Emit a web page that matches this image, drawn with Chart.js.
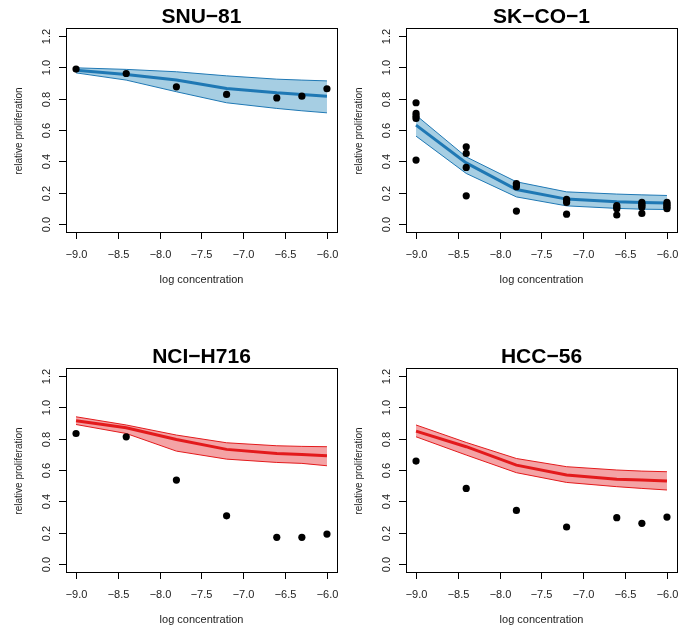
<!DOCTYPE html>
<html>
<head>
<meta charset="utf-8">
<title>Dose response</title>
<script src="https://cdn.jsdelivr.net/npm/chart.js@4.4.1/dist/chart.umd.min.js"></script>
<style>
  html, body { margin: 0; padding: 0; background: #fff; }
  #wrap { position: relative; width: 681px; height: 634px; overflow: hidden; }
  canvas { position: absolute; }
</style>
</head>
<body>
<div id="wrap">
  <canvas id="c1" width="341" height="300" style="left:0;top:0"></canvas>
  <canvas id="c2" width="341" height="300" style="left:340px;top:0"></canvas>
  <canvas id="c3" width="341" height="300" style="left:0;top:340px"></canvas>
  <canvas id="c4" width="341" height="300" style="left:340px;top:340px"></canvas>
</div>
<script>
// log10 molar concentrations used in every assay
const concentrations = [-9.0, -8.4, -7.8, -7.2, -6.6, -6.3, -6.0];

const xTicks = [-9.0, -8.5, -8.0, -7.5, -7.0, -6.5, -6.0];
const xTickLabels = ['\u22129.0', '\u22128.5', '\u22128.0', '\u22127.5', '\u22127.0', '\u22126.5', '\u22126.0'];
const yTicks = [0, 0.2, 0.4, 0.6, 0.8, 1.0, 1.2];
const yTickLabels = ['0.0', '0.2', '0.4', '0.6', '0.8', '1.0', '1.2'];

// SNU-81
const snu81Points = [0.987, 0.959, 0.874, 0.826, 0.804, 0.815, 0.862];
const snu81Median = [0.980, 0.953, 0.917, 0.864, 0.836, 0.826, 0.815];
const snu81Upper = [0.995, 0.985, 0.970, 0.944, 0.923, 0.917, 0.912];
const snu81Lower = [0.963, 0.917, 0.843, 0.773, 0.737, 0.722, 0.709];

// SK-CO-1 (replicates per concentration)
const skco1Points = [
  [0.773, 0.705, 0.688, 0.673, 0.409],
  [0.493, 0.451, 0.362, 0.182],
  [0.260, 0.250, 0.240, 0.085],
  [0.160, 0.150, 0.140, 0.065],
  [0.120, 0.110, 0.100, 0.060],
  [0.140, 0.130, 0.120, 0.110, 0.070],
  [0.140, 0.130, 0.120, 0.110, 0.100]
];
const skco1Median = [0.631, 0.391, 0.222, 0.161, 0.144, 0.140, 0.137];
const skco1Upper = [0.694, 0.429, 0.271, 0.207, 0.193, 0.188, 0.184];
const skco1Lower = [0.561, 0.324, 0.175, 0.118, 0.102, 0.097, 0.095];

// NCI-H716
const nciPoints = [0.832, 0.811, 0.536, 0.309, 0.172, 0.172, 0.193];
const nciMedian = [0.913, 0.868, 0.794, 0.731, 0.705, 0.699, 0.690];
const nciUpper = [0.938, 0.886, 0.822, 0.773, 0.754, 0.750, 0.748];
const nciLower = [0.889, 0.832, 0.720, 0.669, 0.648, 0.642, 0.627];

// HCC-56
const hccPoints = [0.657, 0.483, 0.343, 0.238, 0.297, 0.261, 0.301];
const hccMedian = [0.847, 0.748, 0.631, 0.568, 0.542, 0.536, 0.530];
const hccUpper = [0.886, 0.775, 0.673, 0.621, 0.600, 0.593, 0.589];
const hccLower = [0.811, 0.695, 0.583, 0.521, 0.494, 0.483, 0.473];

const blue = { line: '#1F78B4', fill: '#A6CEE3' };
const red = { line: '#E31A1C', fill: '#F4A3A5' };

const FONT = '"Liberation Sans", Arial, Helvetica, sans-serif';

function xy(values) {
  return values.map((v, i) => ({ x: concentrations[i], y: v }));
}

function replicateXY(groups) {
  const out = [];
  groups.forEach((g, i) => g.forEach(v => out.push({ x: concentrations[i], y: v })));
  return out;
}

// base-graphics style frame: box, outward ticks, rotated y labels
const frame = {
  id: 'frame',
  afterDraw(chart) {
    const ctx = chart.ctx;
    const a = chart.chartArea;
    const xs = chart.scales.x, ys = chart.scales.y;
    ctx.save();
    ctx.strokeStyle = '#000';
    ctx.lineWidth = 1;
    ctx.strokeRect(Math.round(a.left) + 0.5, Math.round(a.top) + 0.5,
      Math.round(a.right - a.left), Math.round(a.bottom - a.top));

    ctx.fillStyle = '#222';
    ctx.font = '11px ' + FONT;
    ctx.textAlign = 'center';
    ctx.textBaseline = 'alphabetic';
    xTicks.forEach((t, i) => {
      const px = Math.round(xs.getPixelForValue(t)) + 0.5;
      ctx.beginPath();
      ctx.moveTo(px, a.bottom);
      ctx.lineTo(px, a.bottom + 7);
      ctx.stroke();
      ctx.fillText(xTickLabels[i], px, a.bottom + 25.5);
    });
    yTicks.forEach((t, i) => {
      const py = Math.round(ys.getPixelForValue(t)) + 0.5;
      ctx.beginPath();
      ctx.moveTo(a.left - 7, py);
      ctx.lineTo(a.left, py);
      ctx.stroke();
      ctx.save();
      ctx.translate(a.left - 16, py);
      ctx.rotate(-Math.PI / 2);
      ctx.fillText(yTickLabels[i], 0, 0);
      ctx.restore();
    });

    const cx = (a.left + a.right) / 2;
    ctx.fillText('log concentration', cx, a.bottom + 50.5);
    ctx.save();
    ctx.font = '10px ' + FONT;
    ctx.translate(22, (a.top + a.bottom) / 2 + 1);
    ctx.rotate(-Math.PI / 2);
    ctx.fillText('relative proliferation', 0, 0);
    ctx.restore();

    ctx.fillStyle = '#000';
    ctx.font = 'bold 21px ' + FONT;
    ctx.fillText(chart.options.plugins.frame.title, cx, a.top - 5);
    ctx.restore();
  }
};

function makePanel(id, title, points, median, upper, lower, colors) {
  new Chart(document.getElementById(id), {
    type: 'line',
    data: {
      datasets: [
        { data: xy(upper), borderColor: colors.line, borderWidth: 1, backgroundColor: colors.fill,
          fill: '+1', pointRadius: 0, tension: 0, order: 3 },
        { data: xy(lower), borderColor: colors.line, borderWidth: 1, fill: false,
          pointRadius: 0, tension: 0, order: 2 },
        { data: xy(median), borderColor: colors.line, borderWidth: 3, fill: false,
          pointRadius: 0, tension: 0, order: 1 },
        { data: points, showLine: false, pointRadius: 3.6, pointBackgroundColor: '#000',
          pointBorderWidth: 0, order: 0 }
      ]
    },
    options: {
      responsive: false,
      animation: false,
      devicePixelRatio: 1,
      events: [],
      layout: { padding: { left: 66, top: 28, right: 3, bottom: 68 } },
      scales: {
        x: { type: 'linear', min: -9.12, max: -5.88, display: false },
        y: { type: 'linear', min: -0.048, max: 1.248, display: false }
      },
      plugins: {
        legend: { display: false },
        tooltip: { enabled: false },
        frame: { title: title }
      }
    },
    plugins: [frame]
  });
}

makePanel('c1', 'SNU\u221281', xy(snu81Points), snu81Median, snu81Upper, snu81Lower, blue);
makePanel('c2', 'SK\u2212CO\u22121', replicateXY(skco1Points), skco1Median, skco1Upper, skco1Lower, blue);
makePanel('c3', 'NCI\u2212H716', xy(nciPoints), nciMedian, nciUpper, nciLower, red);
makePanel('c4', 'HCC\u221256', xy(hccPoints), hccMedian, hccUpper, hccLower, red);
</script>
</body>
</html>
